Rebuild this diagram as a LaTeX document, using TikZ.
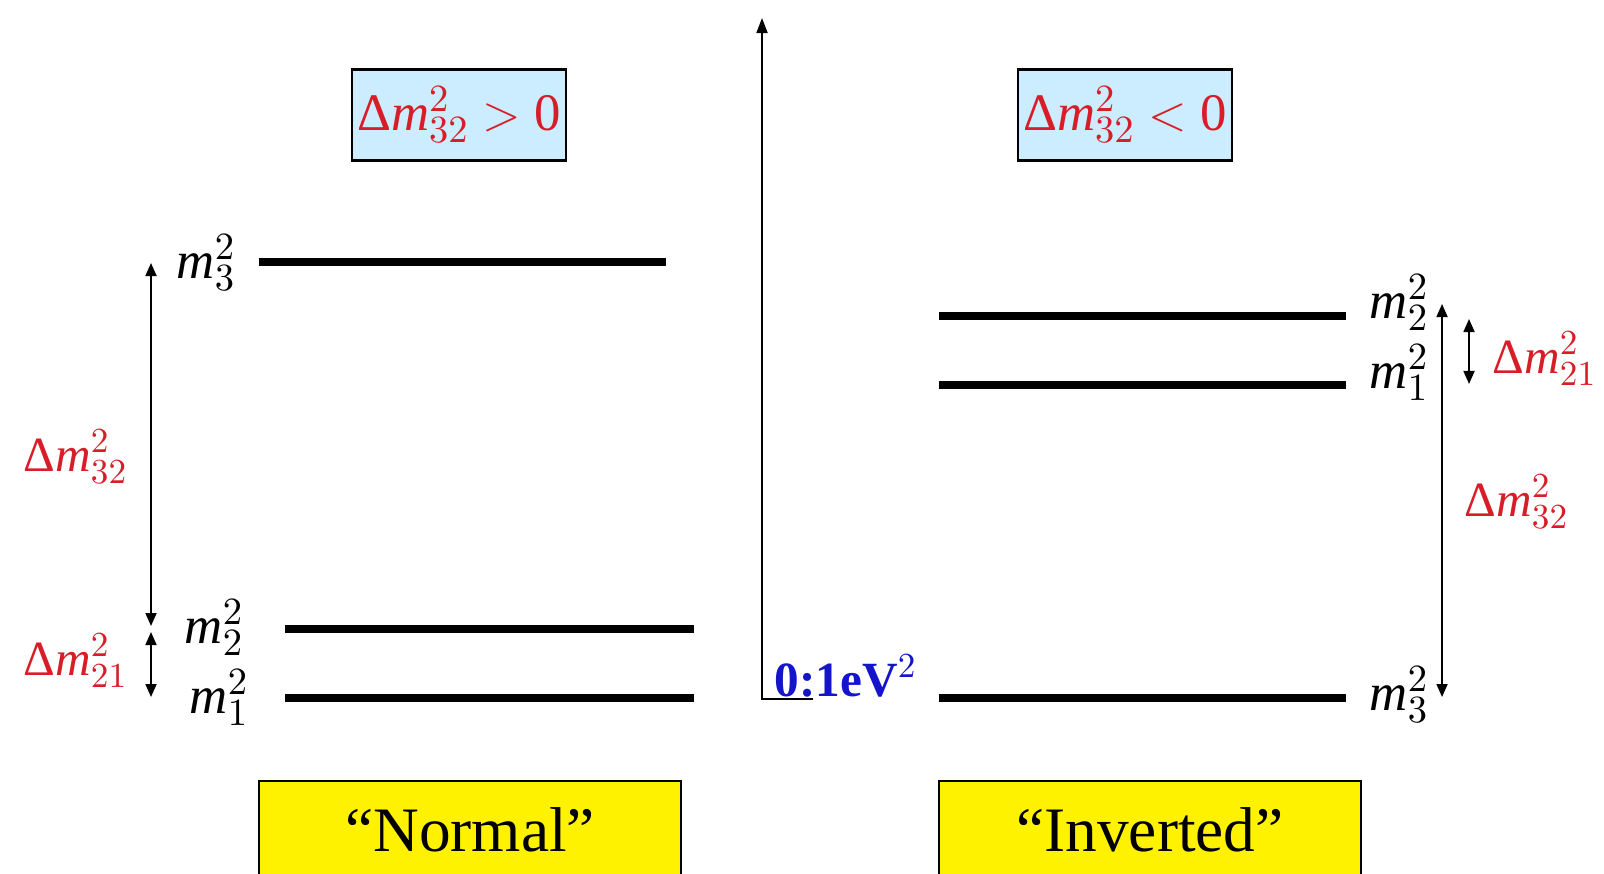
\documentclass[tikz,border=0pt]{standalone}
\usepackage{fontspec}
\setmainfont{Liberation Serif}
\usetikzlibrary{arrows.meta,positioning}

\definecolor{dmred}{RGB}{215,30,40}
\definecolor{signblue}{RGB}{204,236,255}
\definecolor{axisblue}{RGB}{20,20,205}

\newcommand{\msq}[1]{\textit{m}$^{2}_{#1}$}
\newcommand{\dmsq}[1]{Δ\msq{#1}}

\begin{document}
\begin{tikzpicture}[
    x=0.01cm, y=-0.01cm,
    level/.style={line width=2.1pt},
    gap/.style={{Triangle[length=1.3mm,width=1.1mm]}-{Triangle[length=1.3mm,width=1.1mm]}, line width=0.5pt},
    mlabel/.style={anchor=west, inner sep=0pt, font=\fontsize{15}{17}\selectfont},
    dlabel/.style={anchor=west, inner sep=0pt, text=dmred, font=\fontsize{14}{16}\selectfont},
    signbox/.style={draw, fill=signblue, line width=0.7pt, inner sep=1pt, minimum width=2.14cm, minimum height=0.91cm, text=dmred, font=\fontsize{15}{17}\selectfont},
    namebox/.style={draw, fill=yellow, line width=0.7pt, anchor=north, minimum width=4.22cm, minimum height=0.97cm, font=\fontsize{18}{20}\selectfont}
  ]
    \useasboundingbox (0,0) rectangle (1604,873);

    % axis
    \coordinate (origin) at (762,699);
    \coordinate (top) at (762,18);
    \coordinate (tick) at (813,699);
    \draw[line width=0.5pt, -{Triangle[length=1.5mm,width=1.1mm]}] (tick) -- (origin) -- (top);
    \node[anchor=west, inner sep=0pt, text=axisblue, font=\fontsize{14}{16}\selectfont\bfseries] (scale) at (774,676) {0:1eV$^{2}$};

    % sign boxes
    \node[signbox] (normsign) at (459,115) {\dmsq{32} $>$ 0};
    \node[signbox] (invsign) at (1125,115) {\dmsq{32} $<$ 0};

    % normal ordering
    \coordinate (n3a) at (259,262); \coordinate (n3b) at (666,262);
    \coordinate (n2a) at (285,629); \coordinate (n2b) at (694,629);
    \coordinate (n1a) at (285,698); \coordinate (n1b) at (694,698);
    \draw[level] (n3a) -- (n3b);
    \draw[level] (n2a) -- (n2b);
    \draw[level] (n1a) -- (n1b);
    \node[mlabel] (nm3) at (176,263) {\msq{3}};
    \node[mlabel] (nm2) at (184,628) {\msq{2}};
    \node[mlabel] (nm1) at (189,698) {\msq{1}};
    \coordinate (nt3) at (151,263);
    \coordinate (nt2a) at (151,626);
    \coordinate (nt2b) at (151,632);
    \coordinate (nt1) at (151,697);
    \draw[gap] (nt3) -- (nt2a);
    \draw[gap] (nt2b) -- (nt1);
    \node[dlabel] (nd32) at (23,457) {\dmsq{32}};
    \node[dlabel] (nd21) at (23,661) {\dmsq{21}};

    % inverted ordering
    \coordinate (i2a) at (939,316); \coordinate (i2b) at (1346,316);
    \coordinate (i1a) at (939,385); \coordinate (i1b) at (1346,385);
    \coordinate (i3a) at (939,698); \coordinate (i3b) at (1346,698);
    \draw[level] (i2a) -- (i2b);
    \draw[level] (i1a) -- (i1b);
    \draw[level] (i3a) -- (i3b);
    \node[mlabel] (im2) at (1369,303) {\msq{2}};
    \node[mlabel] (im1) at (1369,373) {\msq{1}};
    \node[mlabel] (im3) at (1369,695) {\msq{3}};
    \coordinate (it2) at (1442,304);
    \coordinate (it3) at (1442,697);
    \coordinate (is2) at (1469,319);
    \coordinate (is1) at (1469,384);
    \draw[gap] (it2) -- (it3);
    \draw[gap] (is2) -- (is1);
    \node[dlabel] (id21) at (1492,359) {\dmsq{21}};
    \node[dlabel] (id32) at (1464,502) {\dmsq{32}};

    % names
    \node[namebox] (normal) at (470,780) {“Normal”};
    \node[namebox] (inverted) at (1150,780) {“Inverted”};
  \end{tikzpicture}
\end{document}
